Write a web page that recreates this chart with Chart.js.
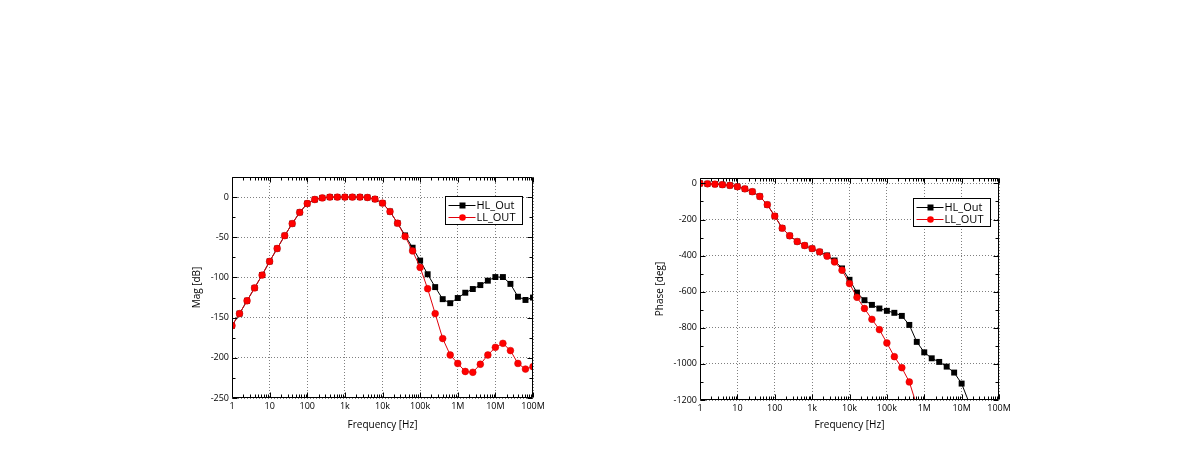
<!DOCTYPE html>
<html>
<head>
<meta charset="utf-8">
<script src="https://cdn.jsdelivr.net/npm/chart.js@4.4.1/dist/chart.umd.min.js"></script>
<style>
    html, body { margin: 0; padding: 0; background: #fff; width: 1190px; height: 469px; overflow: hidden; }
    canvas { position: absolute; }
    #mag { left: 170px; top: 160px; }
    #phase { left: 640px; top: 160px; }
</style>
</head>
<body>
<canvas id="mag" width="400" height="280"></canvas>
<canvas id="phase" width="400" height="280"></canvas>
<script>
"use strict";

// Frequency points (5 per decade), Hz
const freq = [
    1, 1.585, 2.512, 3.981, 6.31,
    10, 15.85, 25.12, 39.81, 63.1,
    100, 158.5, 251.2, 398.1, 631,
    1e3, 1585, 2512, 3981, 6310,
    1e4, 15850, 25120, 39810, 63100,
    1e5, 158500, 251200, 398100, 631000,
    1e6, 1585000, 2512000, 3981000, 6310000,
    1e7, 15850000, 25120000, 39810000, 63100000,
    1e8,
];

const freqTicks = [1, 10, 100, 1e3, 1e4, 1e5, 1e6, 1e7, 1e8];
const freqTickLabels = ["1", "10", "100", "1k", "10k", "100k", "1M", "10M", "100M"];

// Magnitude [dB]
const magHL = [
    -160, -145, -129, -113, -97,
    -80, -64, -48, -33, -19,
    -8, -3, -1, 0, 0,
    0, 0, 0, -0.5, -2.5,
    -7.5, -18, -32.5, -47.7, -63,
    -79, -96, -112, -127, -132,
    -125.6, -119, -114.4, -109.5, -104,
    -99.5, -99.5, -108, -124, -128,
    -125,
];
const magLL = [
    -160, -145, -129, -113, -97,
    -80, -64, -48, -33, -19,
    -8, -3, -1, 0, 0,
    0, 0, 0, -0.5, -2.5,
    -7.5, -18, -32.5, -49, -67,
    -87.5, -114, -145, -176, -196.5,
    -207, -217, -218, -208, -196.5,
    -187, -182, -191, -207, -214,
    -211,
];

// Phase [deg]
const phaseHL = [
    0, -2, -4, -7, -11,
    -18, -30, -46, -72, -118,
    -181, -248, -290, -322, -344,
    -361, -379, -399, -427, -471,
    -534, -605, -647, -673, -693,
    -706, -717, -734, -784, -878,
    -936, -969, -989, -1015, -1048,
    -1109, -1215,
];
const phaseLL = [
    0, -2, -4, -7, -11,
    -18, -30, -46, -72, -118,
    -181, -248, -290, -322, -344,
    -361, -379, -403, -435, -481,
    -555, -631, -693, -753, -810,
    -884, -960, -1021, -1100, -1230,
];

const magTicks = [-250, -200, -150, -100, -50, 0];
const phaseTicks = [-1200, -1000, -800, -600, -400, -200, 0];

const FONT = "'Open Sans', 'DejaVu Sans', sans-serif";

const toPoints = (ys) => ys.map((y, i) => ({ x: freq[i], y }));

/**
 * Draws the plot frame, inward ticks on all four sides and the boxed legend
 */
const frameTicks = {
    id: "frameTicks",
    afterDraw(chart, args, opts) {
        const { ctx, chartArea: a, scales } = chart;
        const L = Math.round(a.left) + 0.5;
        const R = Math.round(a.right) - 0.5;
        const T = Math.round(a.top) + 0.5;
        const B = Math.round(a.bottom) - 0.5;

        ctx.save();
        ctx.strokeStyle = "#000";
        ctx.lineWidth = 1;
        ctx.beginPath();
        ctx.rect(L, T, R - L, B - T);
        ctx.stroke();

        // x ticks (log, minor at 2..9)
        const xs = scales.x;
        ctx.beginPath();
        freqTicks.forEach((d, k) => {
            const px = Math.round(xs.getPixelForValue(d)) + 0.5;
            ctx.moveTo(px, B); ctx.lineTo(px, B - 5);
            ctx.moveTo(px, T); ctx.lineTo(px, T + 5);
            if (k < freqTicks.length - 1) {
                for (let m = 2; m < 10; m++) {
                    const p = Math.round(xs.getPixelForValue(d * m)) + 0.5;
                    ctx.moveTo(p, B); ctx.lineTo(p, B - 3);
                    ctx.moveTo(p, T); ctx.lineTo(p, T + 3);
                }
            }
        });

        // y ticks (major + one minor between)
        const ys = scales.y;
        const yt = opts.yTicks;
        yt.forEach((v, k) => {
            const py = Math.round(ys.getPixelForValue(v)) + 0.5;
            ctx.moveTo(L, py); ctx.lineTo(L + 5, py);
            ctx.moveTo(R, py); ctx.lineTo(R - 5, py);
            if (k < yt.length - 1) {
                const mid = (v + yt[k + 1]) / 2;
                const pm = Math.round(ys.getPixelForValue(mid)) + 0.5;
                ctx.moveTo(L, pm); ctx.lineTo(L + 3, pm);
                ctx.moveTo(R, pm); ctx.lineTo(R - 3, pm);
            }
        });
        // minor tick above the last major one, up to the top
        const top = yt[yt.length - 1] + (yt[1] - yt[0]) / 2;
        if (top < ys.max) {
            const pm = Math.round(ys.getPixelForValue(top)) + 0.5;
            ctx.moveTo(L, pm); ctx.lineTo(L + 3, pm);
            ctx.moveTo(R, pm); ctx.lineTo(R - 3, pm);
        }
        ctx.stroke();

        // legend
        const w = 77, h = 28;
        const bx = Math.round(a.right - opts.legendRight - w) + 0.5;
        const by = Math.round(a.top + opts.legendTop) + 0.5;
        ctx.fillStyle = "#fff";
        ctx.fillRect(bx, by, w, h);
        ctx.strokeStyle = "#000";
        ctx.strokeRect(bx, by, w, h);
        ctx.font = "11px " + FONT;
        ctx.textBaseline = "middle";
        chart.data.datasets.forEach((ds, i) => {
            const cy = Math.round(by + 8 + i * 12.5) + 0.5;
            ctx.strokeStyle = ds.borderColor;
            ctx.beginPath();
            ctx.moveTo(bx + 3, cy);
            ctx.lineTo(bx + 30, cy);
            ctx.stroke();
            ctx.fillStyle = ds.pointBackgroundColor;
            if (ds.pointStyle === "rect") {
                ctx.fillRect(bx + 14, cy - 3, 6, 6);
            } else {
                ctx.beginPath();
                ctx.arc(bx + 17, cy, 3.3, 0, Math.PI * 2);
                ctx.fill();
            }
            ctx.fillStyle = "#000";
            ctx.fillText(ds.label, bx + 31, cy + 0.5);
        });
        ctx.restore();
    },
};

function makeChart(canvasId, cfg) {
    return new Chart(document.getElementById(canvasId), {
        type: "line",
        data: {
            datasets: [
                {
                    label: "HL_Out",
                    data: toPoints(cfg.hl),
                    borderColor: "#000",
                    backgroundColor: "#000",
                    pointBackgroundColor: "#000",
                    pointBorderColor: "#000",
                    pointStyle: "rect",
                    pointRadius: 4.2,
                    pointBorderWidth: 0,
                    borderWidth: 1,
                    tension: 0,
                    order: 1,
                },
                {
                    label: "LL_OUT",
                    data: toPoints(cfg.ll),
                    borderColor: "#e0000b",
                    backgroundColor: "#e0000b",
                    pointBackgroundColor: "#ff0000",
                    pointBorderColor: "#d00000",
                    pointStyle: "circle",
                    pointRadius: 3.4,
                    pointBorderWidth: 0.5,
                    borderWidth: 1,
                    tension: 0,
                    order: 0,
                },
            ],
        },
        options: {
            responsive: false,
            animation: false,
            layout: { padding: cfg.padding },
            plugins: {
                legend: { display: false },
                tooltip: { enabled: false },
                frameTicks: {
                    yTicks: cfg.yTicks,
                    legendRight: cfg.legendRight,
                    legendTop: cfg.legendTop,
                },
            },
            scales: {
                x: {
                    type: "logarithmic",
                    min: 1,
                    max: 1e8,
                    afterBuildTicks: (s) => {
                        s.ticks = freqTicks.map((v) => ({ value: v, major: true }));
                    },
                    afterFit: (s) => { s.height = cfg.xHeight; },
                    ticks: {
                        autoSkip: false,
                        maxRotation: 0,
                        padding: 3,
                        color: "#000",
                        font: { family: FONT, size: 9 },
                        callback: (v) => freqTickLabels[freqTicks.indexOf(v)] ?? "",
                    },
                    grid: {
                        color: "rgba(0,0,0,0.5)",
                        lineWidth: 1,
                        drawTicks: false,
                    },
                    border: { display: false, dash: [1, 2] },
                    title: {
                        display: true,
                        text: "Frequency [Hz]",
                        color: "#000",
                        font: { family: FONT, size: 10 },
                        padding: { top: 4, bottom: 4 },
                    },
                },
                y: {
                    type: "linear",
                    min: cfg.yMin,
                    max: cfg.yMax,
                    afterBuildTicks: (s) => {
                        s.ticks = cfg.yTicks.map((v) => ({ value: v }));
                    },
                    afterFit: (s) => { s.width = cfg.yWidth; },
                    ticks: {
                        padding: 3,
                        color: "#000",
                        font: { family: FONT, size: 9 },
                        callback: (v) => String(v),
                    },
                    grid: {
                        color: "rgba(0,0,0,0.5)",
                        lineWidth: 1,
                        drawTicks: false,
                    },
                    border: { display: false, dash: [1, 2] },
                    title: {
                        display: true,
                        text: cfg.yTitle,
                        color: "#000",
                        font: { family: FONT, size: 10 },
                        padding: { top: 4, bottom: 4 },
                    },
                },
            },
        },
        plugins: [frameTicks],
    });
}

makeChart("mag", {
    hl: magHL,
    ll: magLL,
    yTicks: magTicks,
    yMin: -250,
    yMax: 25,
    yTitle: "Mag [dB]",
    padding: { left: 17, top: 17, right: 37, bottom: 5 },
    yWidth: 45,
    xHeight: 37,
    legendRight: 11,
    legendTop: 19,
});

makeChart("phase", {
    hl: phaseHL,
    ll: phaseLL,
    yTicks: phaseTicks,
    yMin: -1200,
    yMax: 30,
    yTitle: "Phase [deg]",
    padding: { left: 10, top: 18, right: 41, bottom: 5 },
    yWidth: 50,
    xHeight: 35,
    legendRight: 9,
    legendTop: 20,
});
</script>
</body>
</html>
